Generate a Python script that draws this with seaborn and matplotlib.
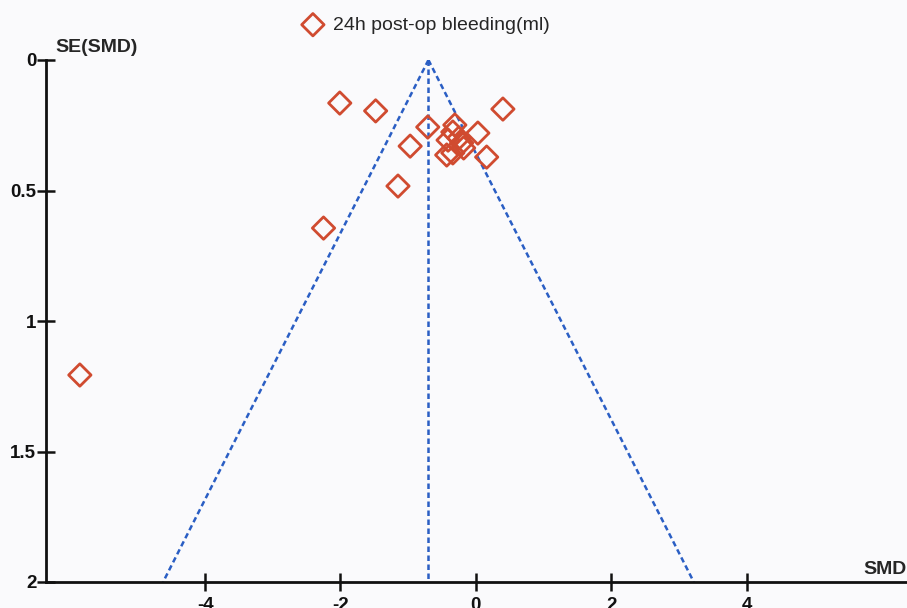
import numpy as np
import matplotlib.pyplot as plt
import pandas as pd
import seaborn as sns

# study estimates
smd = [-5.85, -2.25, -1.15, -2.01, -1.48, -0.97, -0.71, 0.40, 0.03, 0.16,
       -0.31, -0.34, -0.41, -0.21, -0.18, -0.43, -0.34, -0.25]
se = [1.207, 0.644, 0.483, 0.165, 0.195, 0.330, 0.257, 0.188, 0.280, 0.372,
      0.249, 0.276, 0.307, 0.318, 0.337, 0.364, 0.356, 0.299]
pooled = -0.70
label = "24h post-op bleeding(ml)"

df = pd.DataFrame({"SMD": smd, "SE": se})

sns.set_theme(style="white")
plt.rcParams['font.family'] = ['Liberation Sans', 'DejaVu Sans']
plt.rcParams['axes.unicode_minus'] = False

fig = plt.figure(figsize=(9.07, 6.08), dpi=100)
fig.patch.set_facecolor('#fafafc')
ax = fig.add_axes([46 / 907, 26 / 608, 861 / 907, 522 / 608])
ax.set_facecolor('#fafafc')

red = '#d04b30'
blue = '#2a5ec4'

# funnel: pooled +/- 1.96 * SE
se_line = np.array([0, 2.0])
funnel = pd.DataFrame({
    "x": np.concatenate([pooled - 1.96 * se_line, pooled + 1.96 * se_line, [pooled, pooled]]),
    "y": np.concatenate([se_line, se_line, se_line]),
    "side": ["l", "l", "r", "r", "c", "c"],
})
for s, g in funnel.groupby("side"):
    sns.lineplot(data=g, x="x", y="y", ax=ax, color=blue, linestyle=(0, (2.2, 1.4)),
                 linewidth=1.8, sort=False, estimator=None)

sns.scatterplot(data=df, x="SMD", y="SE", ax=ax, marker='D', s=130,
                facecolor='none', edgecolor=red, linewidth=2, label=label, zorder=5,
                clip_on=False)

ax.set_xlim(-6.35, 6.37)
ax.set_ylim(2, 0)
ax.set_xticks([-4, -2, 0, 2, 4])
ax.set_yticks([0, 0.5, 1, 1.5, 2])
ax.set_yticklabels(['0', '0.5', '1', '1.5', '2'])
ax.set_xlabel('')
ax.set_ylabel('')
for sp in ['top', 'right']:
    ax.spines[sp].set_visible(False)
for sp in ['left', 'bottom']:
    ax.spines[sp].set_color('#111111')
    ax.spines[sp].set_linewidth(2)
ax.tick_params(axis='both', direction='inout', length=13, width=1.8, colors='#111111',
               labelsize=13.5, left=True, bottom=True)
for t in ax.get_xticklabels() + ax.get_yticklabels():
    t.set_fontweight('bold')
ax.tick_params(axis='x', pad=4)
ax.tick_params(axis='y', pad=0.5)

fig.text(55 / 907, 1 - 47 / 608, 'SE(SMD)', fontsize=14, fontweight='bold', va='center', ha='left')
fig.text(907 / 907, 1 - 570 / 608, 'SMD', fontsize=14, fontweight='bold', va='center', ha='right')

ax.legend_.remove()
h, l = ax.get_legend_handles_labels()
fig.legend(h, l, loc='center', bbox_to_anchor=(0.465, 1 - 25 / 608), frameon=False,
           fontsize=14, handletextpad=0.05, markerscale=1.0)

fig.savefig('out.png', dpi=100, facecolor=fig.get_facecolor())
